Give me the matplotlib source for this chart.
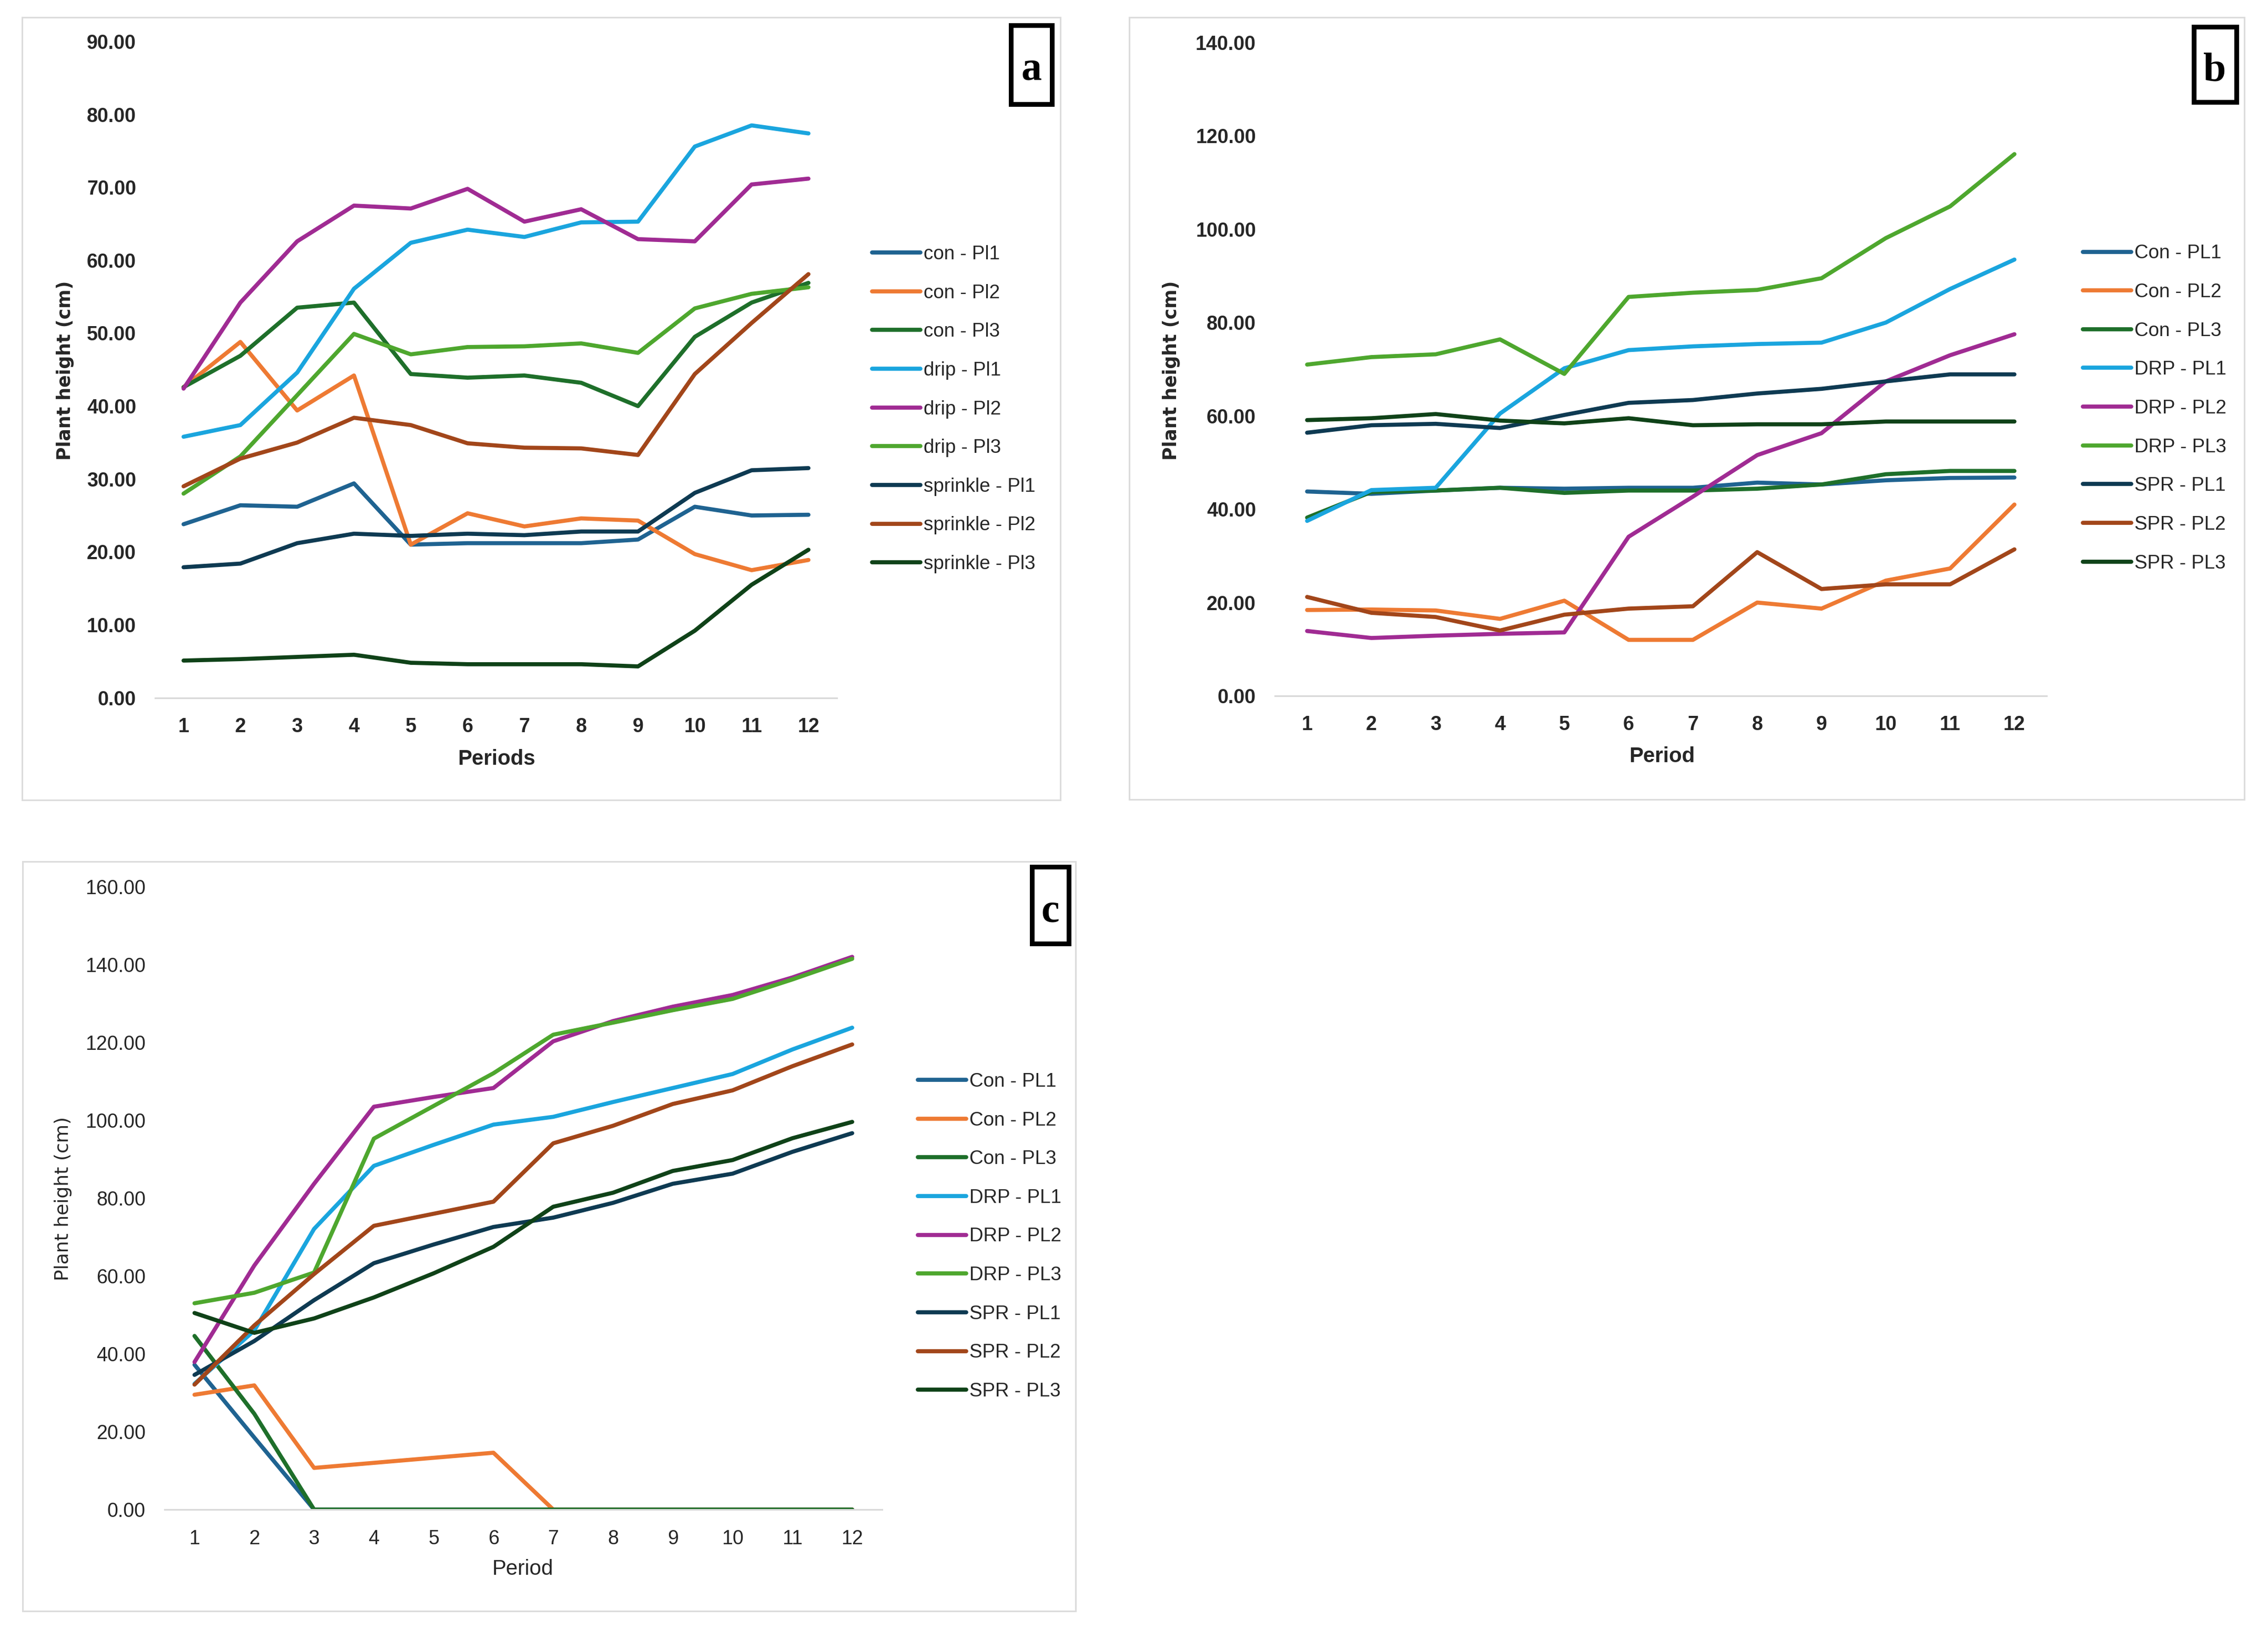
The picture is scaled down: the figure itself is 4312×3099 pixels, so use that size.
import matplotlib
matplotlib.use("Agg")
import matplotlib.pyplot as plt
from matplotlib.patches import Rectangle

# ---------------- data ----------------
periods = [1, 2, 3, 4, 5, 6, 7, 8, 9, 10, 11, 12]

# panel a
a_labels = ["con - Pl1", "con - Pl2", "con - Pl3", "drip - Pl1", "drip - Pl2", "drip - Pl3",
            "sprinkle - Pl1", "sprinkle - Pl2", "sprinkle - Pl3"]
a_con_pl1 = [23.8, 26.4, 26.2, 29.4, 21.0, 21.2, 21.2, 21.2, 21.7, 26.2, 25.0, 25.1]
a_con_pl2 = [42.6, 48.8, 39.4, 44.2, 21.0, 25.3, 23.5, 24.6, 24.3, 19.7, 17.5, 18.9]
a_con_pl3 = [42.6, 46.9, 53.5, 54.2, 44.4, 43.9, 44.2, 43.2, 40.0, 49.5, 54.2, 56.9]
a_drip_pl1 = [35.8, 37.4, 44.6, 56.1, 62.4, 64.2, 63.2, 65.2, 65.3, 75.6, 78.5, 77.4]
a_drip_pl2 = [42.4, 54.2, 62.6, 67.5, 67.1, 69.8, 65.3, 67.0, 62.9, 62.6, 70.4, 71.2]
a_drip_pl3 = [28.0, 33.1, 41.5, 49.9, 47.1, 48.1, 48.2, 48.6, 47.3, 53.4, 55.4, 56.3]
a_spr_pl1 = [17.9, 18.4, 21.2, 22.5, 22.2, 22.5, 22.3, 22.8, 22.8, 28.1, 31.2, 31.5]
a_spr_pl2 = [29.0, 32.8, 35.0, 38.4, 37.4, 34.9, 34.3, 34.2, 33.3, 44.4, 51.4, 58.1]
a_spr_pl3 = [5.1, 5.3, 5.6, 5.9, 4.8, 4.6, 4.6, 4.6, 4.3, 9.2, 15.5, 20.3]
a_yticks = [0, 10, 20, 30, 40, 50, 60, 70, 80, 90]

# panel b
b_labels = ["Con - PL1", "Con - PL2", "Con - PL3", "DRP - PL1", "DRP - PL2", "DRP - PL3",
            "SPR - PL1", "SPR - PL2", "SPR - PL3"]
b_con_pl1 = [43.8, 43.3, 44.0, 44.6, 44.4, 44.6, 44.6, 45.7, 45.3, 46.2, 46.7, 46.8]
b_con_pl2 = [18.4, 18.5, 18.3, 16.5, 20.4, 12.0, 12.0, 20.0, 18.7, 24.7, 27.3, 41.0]
b_con_pl3 = [38.2, 43.7, 44.0, 44.6, 43.5, 44.0, 44.0, 44.4, 45.3, 47.5, 48.2, 48.2]
b_drp_pl1 = [37.5, 44.1, 44.6, 60.5, 70.2, 74.1, 74.9, 75.4, 75.7, 80.0, 87.2, 93.5]
b_drp_pl2 = [13.9, 12.4, 12.9, 13.3, 13.6, 34.1, 42.7, 51.6, 56.3, 67.4, 73.0, 77.5]
b_drp_pl3 = [71.0, 72.6, 73.2, 76.4, 69.0, 85.5, 86.4, 87.0, 89.5, 98.1, 104.9, 116.1]
b_spr_pl1 = [56.4, 58.0, 58.3, 57.4, 60.2, 62.8, 63.4, 64.8, 65.8, 67.4, 68.9, 68.9]
b_spr_pl2 = [21.2, 17.8, 16.9, 14.0, 17.4, 18.7, 19.2, 30.8, 22.9, 23.9, 23.9, 31.4]
b_spr_pl3 = [59.1, 59.5, 60.4, 59.0, 58.4, 59.5, 58.0, 58.2, 58.2, 58.8, 58.8, 58.8]
b_yticks = [0, 20, 40, 60, 80, 100, 120, 140]

# panel c
c_labels = b_labels
c_con_pl1 = [37.2, 18.5, 0, 0, 0, 0, 0, 0, 0, 0, 0, 0]
c_con_pl2 = [29.5, 31.9, 10.7, 12.0, 13.3, 14.6, 0, 0, 0, 0, 0, 0]
c_con_pl3 = [44.6, 24.6, 0, 0, 0, 0, 0, 0, 0, 0, 0, 0]
c_drp_pl1 = [32.3, 46.0, 72.1, 88.3, 93.7, 98.9, 100.9, 104.7, 108.3, 111.9, 118.2, 123.8]
c_drp_pl2 = [37.9, 62.7, 83.7, 103.5, 106.0, 108.3, 120.3, 125.5, 129.2, 132.2, 136.7, 142.0]
c_drp_pl3 = [53.0, 55.7, 60.9, 95.3, 103.7, 112.1, 122.0, 125.1, 128.3, 131.2, 136.2, 141.5]
c_spr_pl1 = [34.6, 43.3, 53.8, 63.3, 68.1, 72.6, 75.0, 78.8, 83.7, 86.3, 91.9, 96.7]
c_spr_pl2 = [32.1, 47.3, 60.5, 72.9, 76.0, 79.1, 94.1, 98.6, 104.2, 107.7, 113.9, 119.5]
c_spr_pl3 = [50.5, 45.4, 49.1, 54.5, 60.7, 67.5, 77.8, 81.4, 87.0, 89.8, 95.4, 99.6]
c_yticks = [0, 20, 40, 60, 80, 100, 120, 140, 160]

colors = ["#1F6391", "#EE7A33", "#1E6F2A", "#1AA5DE", "#A02B93", "#4EA72E",
          "#0E3A52", "#A2461A", "#0F4218"]

# ---------------- layout ----------------
W, H = 4312, 3099
fig = plt.figure(figsize=(W / 100, H / 100), dpi=100)
fig.patch.set_facecolor("white")


def fx(px):
    return px / W


def fy(py):
    return 1 - py / H


def add_panel(left, right, top, bottom):
    return fig.add_axes([fx(left), fy(bottom), fx(right - left), (bottom - top) / H])


TXT = "#262626"
SANS = "Liberation Sans"
LW = 5.6


def style_axes(ax, yticks, ymax, bold):
    w = "bold" if bold else "normal"
    ax.set_xlim(0.5, 12.5)
    ax.set_ylim(0, ymax)
    ax.set_xticks(periods)
    ax.set_xticklabels([str(p) for p in periods], fontsize=27, fontweight=w,
                       family=SANS, color=TXT)
    ax.set_yticks(yticks)
    ax.set_yticklabels([f"{v:.2f}" for v in yticks], fontsize=27, fontweight=w,
                       family=SANS, color=TXT)
    ax.tick_params(axis="both", length=0)
    ax.tick_params(axis="y", pad=26)
    ax.tick_params(axis="x", pad=27)
    for s in ["top", "left", "right"]:
        ax.spines[s].set_visible(False)
    ax.spines["bottom"].set_color("#D9D9D9")
    ax.spines["bottom"].set_linewidth(2.2)
    ax.patch.set_alpha(0)


def draw_series(ax, series, labels):
    for vals, lab, col in zip(series, labels, colors):
        ax.plot(periods, vals, color=col, lw=LW, label=lab,
                solid_joinstyle="round", solid_capstyle="round")


def add_legend(ax, left_px, center_px, spacing):
    leg = ax.legend(loc="center left", bbox_to_anchor=(fx(left_px), fy(center_px)),
                    bbox_transform=fig.transFigure, frameon=False,
                    prop={"family": SANS, "size": 26.5}, handlelength=2.5,
                    handletextpad=0.15, labelspacing=spacing, borderpad=0,
                    borderaxespad=0)
    for t in leg.get_texts():
        t.set_color(TXT)
    for l in leg.get_lines():
        l.set_linewidth(LW)


def panel_frame(x0, y0, x1, y1):
    fig.patches.append(Rectangle((fx(x0), fy(y1)), fx(x1 - x0), (y1 - y0) / H,
                                 transform=fig.transFigure, fill=False,
                                 edgecolor="#DCDCDC", lw=2.2, zorder=0))


def letter_box(x0, y0, x1, y1, letter, baseline):
    fig.patches.append(Rectangle((fx(x0 + 4.5), fy(y1 - 4.5)), fx(x1 - x0 - 9),
                                 (y1 - y0 - 9) / H, transform=fig.transFigure,
                                 fill=False, edgecolor="black", lw=6.5, zorder=5))
    fig.text(fx((x0 + x1) / 2), fy(baseline), letter, ha="center", va="baseline",
             fontsize=56, fontweight="bold", family="Liberation Serif", color="black")


# frames
panel_frame(42, 33, 2016, 1521)
panel_frame(2147, 33, 4267, 1520)
panel_frame(43, 1638, 2045, 3063)

# ---- panel a ----
axa = add_panel(295, 1591, 79, 1326.6)
style_axes(axa, a_yticks, 90, True)
draw_series(axa, [a_con_pl1, a_con_pl2, a_con_pl3, a_drip_pl1, a_drip_pl2, a_drip_pl3,
                  a_spr_pl1, a_spr_pl2, a_spr_pl3], a_labels)
add_legend(axa, 1658, 778, 1.05)
fig.text(fx(124), fy(704), "Plant height (cm)", rotation=90, ha="center", va="center",
         fontsize=25, fontweight="bold", family="DejaVu Sans", color=TXT)
fig.text(fx(944), fy(1443), "Periods", ha="center", va="center",
         fontsize=29, fontweight="bold", family=SANS, color=TXT)
letter_box(1917, 44, 2004, 202, "a", 152)

# ---- panel b ----
axb = add_panel(2424, 3891, 81, 1323)
style_axes(axb, b_yticks, 140, True)
draw_series(axb, [b_con_pl1, b_con_pl2, b_con_pl3, b_drp_pl1, b_drp_pl2, b_drp_pl3,
                  b_spr_pl1, b_spr_pl2, b_spr_pl3], b_labels)
add_legend(axb, 3960, 776.5, 1.05)
fig.text(fx(2227), fy(704), "Plant height (cm)", rotation=90, ha="center", va="center",
         fontsize=25, fontweight="bold", family="DejaVu Sans", color=TXT)
fig.text(fx(3160), fy(1438), "Period", ha="center", va="center",
         fontsize=29, fontweight="bold", family=SANS, color=TXT)
letter_box(4166, 46, 4256, 198, "b", 153)

# ---- panel c ----
axc = add_panel(313, 1677, 1686, 2870)
style_axes(axc, c_yticks, 160, False)
draw_series(axc, [c_con_pl1, c_con_pl2, c_con_pl3, c_drp_pl1, c_drp_pl2, c_drp_pl3,
                  c_spr_pl1, c_spr_pl2, c_spr_pl3], c_labels)
add_legend(axc, 1745, 2351, 1.05)
fig.text(fx(120), fy(2279), "Plant height (cm)", rotation=90, ha="center", va="center",
         fontsize=26, fontweight="normal", family="DejaVu Sans", color=TXT)
fig.text(fx(994), fy(2983), "Period", ha="center", va="center",
         fontsize=29, fontweight="normal", family=SANS, color=TXT)
letter_box(1957, 1643, 2036, 1798, "c", 1753)

fig.savefig("out.png", dpi=100, facecolor="white")
